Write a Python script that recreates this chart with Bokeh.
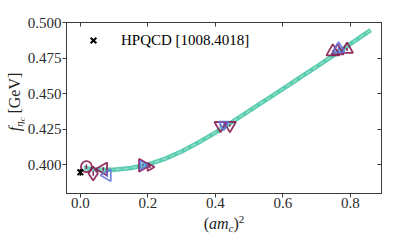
import math
from bokeh.plotting import figure
from bokeh.models import (Range1d, LinearAxis, FixedTicker, Legend, LegendItem,
                          ColumnDataSource, Div)
from bokeh.layouts import row, column
from bokeh.embed import file_html
from bokeh.resources import INLINE

# ---------------- data ----------------
x_ticks = [0.0, 0.2, 0.4, 0.6, 0.8]
x_tick_labels = ["0.0", "0.2", "0.4", "0.6", "0.8"]
y_ticks = [0.400, 0.425, 0.450, 0.475, 0.500]
y_tick_labels = ["0.400", "0.425", "0.450", "0.475", "0.500"]

fit_x = [0.01, 0.05, 0.10, 0.15, 0.20, 0.25, 0.30, 0.35, 0.40, 0.45, 0.50,
         0.55, 0.60, 0.65, 0.70, 0.75, 0.80, 0.86]
fit_y = [0.3975, 0.3964, 0.3963, 0.3976, 0.4000, 0.4040, 0.4092, 0.4155, 0.4225,
         0.4300, 0.4377, 0.4455, 0.4533, 0.4611, 0.4690, 0.4769, 0.4849, 0.4946]

# lattice points: x, y, err, marker, angle(deg), colour key, size
pt_x = [0.018, 0.038, 0.068, 0.080, 0.185, 0.185, 0.206, 0.415, 0.425, 0.443,
        0.748, 0.762, 0.765, 0.790]
pt_y = [0.3985, 0.3937, 0.3968, 0.3925, 0.3995, 0.3995, 0.3982, 0.4275, 0.4282,
        0.4275, 0.4795, 0.4800, 0.4815, 0.4810]
pt_err = [0.0016, 0.0016, 0.0012, 0.0012, 0.0008, 0.0008, 0.0006, 0.0008, 0.0008,
          0.0008, 0.0010, 0.0010, 0.0010, 0.0010]
pt_marker = ["circle", "diamond", "triangle", "triangle", "triangle", "triangle",
             "triangle", "inverted_triangle", "inverted_triangle", "inverted_triangle",
             "triangle", "triangle", "triangle", "triangle"]
pt_angle = [0, 0, 90, 90, -90, -90, -90, 0, 0, 0, 0, 0, 0, 0]
pt_group = ["m", "m", "m", "b", "m", "b", "m", "m", "b", "m", "m", "m", "b", "m"]
pt_size = [11, 14, 13, 12, 13, 9, 8, 12, 10, 12, 13, 12, 12, 12]

ref_x = [0.0]
ref_y = [0.3945]
ref_err = [0.0024]
ref_label = "HPQCD [1008.4018]"

MAROON = "#8a1b52"
BLUE = "#6272d8"
TEAL = "#3cc3a2"

# ---------------- figure ----------------
X0, X1 = -0.041, 0.892
Y0, Y1 = 0.3796, 0.500

YDIV_W = 24
P_W, P_H = 383 - YDIV_W, 215
XDIV_H = 20

p = figure(width=P_W, height=P_H, output_backend="svg", toolbar_location=None,
           x_range=Range1d(X0, X1), y_range=Range1d(Y0, Y1),
           min_border_left=42, min_border_right=2, min_border_top=22,
           min_border_bottom=22, margin=0)
p.xgrid.visible = False
p.ygrid.visible = False
p.outline_line_color = "#3a3a3a"
p.background_fill_color = "white"
p.border_fill_color = "white"

FONT = "Liberation Serif"
AX = "#3a3a3a"

def style_axis(ax, ticks, labels, outside, show_labels):
    ax.ticker = FixedTicker(ticks=ticks)
    ax.major_label_overrides = {t: l for t, l in zip(ticks, labels)}
    ax.minor_tick_line_color = None
    ax.axis_line_color = AX
    ax.major_tick_line_color = AX
    ax.axis_line_width = 1
    ax.major_tick_line_width = 1
    ax.major_tick_out = 4 if outside else 0
    ax.major_tick_in = 0 if outside else 4
    ax.major_label_text_font = FONT
    if show_labels:
        ax.major_label_text_color = "#2a2a2a"
        ax.major_label_text_font_size = "15px"
        ax.major_label_standoff = 1
    else:
        ax.major_label_text_color = None
        ax.major_label_text_font_size = "1px"
        ax.major_label_standoff = 0

style_axis(p.xaxis[0], x_ticks, x_tick_labels, True, True)
style_axis(p.yaxis[0], y_ticks, y_tick_labels, True, True)
p.xaxis[0].major_label_standoff = 0
top = LinearAxis()
right = LinearAxis()
style_axis(top, x_ticks, x_tick_labels, False, False)
style_axis(right, y_ticks, y_tick_labels, False, False)
p.add_layout(top, "above")
p.add_layout(right, "right")

# ---------------- fit band ----------------
p.line(fit_x, fit_y, line_color=TEAL, line_width=4.5, line_alpha=0.85)
p.line(fit_x, fit_y, line_color="#8fdcc8", line_width=1.6, line_dash="5 3")

# ---------------- lattice points ----------------
for grp, col in (("m", MAROON), ("b", BLUE)):
    idx = [i for i, g in enumerate(pt_group) if g == grp]
    src = ColumnDataSource(dict(
        x=[pt_x[i] for i in idx], y=[pt_y[i] for i in idx],
        lo=[pt_y[i] - pt_err[i] for i in idx], hi=[pt_y[i] + pt_err[i] for i in idx],
        marker=[pt_marker[i] for i in idx],
        angle=[math.radians(pt_angle[i]) for i in idx],
        size=[pt_size[i] for i in idx]))
    p.segment(x0="x", y0="lo", x1="x", y1="hi", source=src, line_color=col, line_width=1.5)
    p.scatter(x="x", y="y", marker="marker", angle="angle", size="size", source=src,
              fill_color=None, line_color=col, line_width=1.8,
              line_alpha=0.9 if grp == "m" else 0.85)

# ---------------- reference point ----------------
p.segment(ref_x, [ref_y[0] - ref_err[0]], ref_x, [ref_y[0] + ref_err[0]],
          line_color="black", line_width=1.5)
ref = p.scatter(ref_x, ref_y, marker="x", size=8, line_color="black", line_width=2)

leg = Legend(items=[LegendItem(label=ref_label, renderers=[ref])],
             location=(17, 143), padding=0, margin=0, spacing=0,
             glyph_width=20, glyph_height=20, label_standoff=18,
             label_text_font=FONT, label_text_font_size="15px",
             label_text_color="black", border_line_color=None,
             background_fill_alpha=0)
p.add_layout(leg, "center")

# ---------------- axis titles (real text with sub/superscripts) ----------------
FONT_CSS = "font-family:'Liberation Serif',serif; color:#222; white-space:nowrap;"

y_title = Div(width=YDIV_W, height=P_H, margin=0, text=(
    f'<div style="position:relative; width:{YDIV_W}px; height:{P_H}px;">'
    f'<div style="position:absolute; left:16px; top:102px; '
    f'transform:translate(-50%,-50%) rotate(-90deg); font-size:16px; line-height:16px; {FONT_CSS}">'
    '<i>f</i><span style="font-size:11px; position:relative; top:3px;"><i>η</i>'
    '<span style="font-size:8.5px; position:relative; top:1.5px;"><i>c</i></span></span>'
    '&nbsp;[GeV]</div></div>'))

x_title = Div(width=383, height=XDIV_H, margin=0, text=(
    f'<div style="position:relative; width:383px; height:{XDIV_H}px;">'
    f'<div style="position:absolute; left:224px; top:1px; transform:translateX(-50%); '
    f'font-size:16px; line-height:16px; {FONT_CSS}">'
    '(<i>am</i><span style="font-size:11px; position:relative; top:3px;"><i>c</i></span>)'
    '<span style="font-size:11px; position:relative; top:-6px;">2</span>'
    '</div></div>'))

layout = column(row(y_title, p, spacing=0, margin=0), x_title, spacing=0, margin=0)

open("out.html", "w").write(file_html(layout, INLINE))
